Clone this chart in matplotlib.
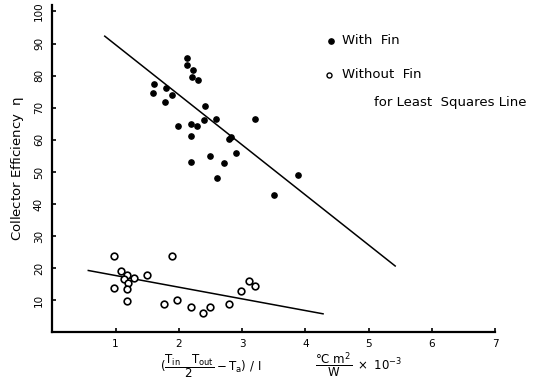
import matplotlib
matplotlib.use("Agg")
import matplotlib.pyplot as plt

plt.rcParams['mathtext.default'] = 'regular'

# With fin (filled dots)
fin_x = [2.13, 2.13, 2.22, 2.21, 2.31, 1.61, 1.60, 1.80, 1.89, 1.79,
         2.41, 2.59, 2.40, 2.19, 2.29, 1.99, 3.20, 2.20, 2.80, 2.82,
         2.90, 2.49, 2.71, 2.20, 2.61, 3.88, 3.50]
fin_y = [85.6, 83.3, 81.7, 79.6, 78.5, 77.3, 74.7, 76.1, 74.0, 71.9,
         70.6, 66.6, 66.1, 65.0, 64.4, 64.2, 66.5, 61.3, 60.3, 61.0,
         55.9, 54.9, 52.8, 53.2, 48.2, 49.2, 42.7]

# Without fin (open circles)
nofin_x = [0.98, 1.89, 1.08, 1.18, 1.14, 1.30, 1.49, 1.19, 0.97, 1.18,
           1.18, 1.77, 1.97, 2.19, 2.39, 2.49, 2.80, 2.98, 3.11, 3.20]
nofin_y = [23.7, 23.8, 19.0, 17.9, 16.6, 17.0, 17.8, 15.4, 13.7, 13.6,
           9.9, 8.8, 10.2, 8.0, 6.0, 7.9, 8.8, 12.9, 16.1, 14.5]

# least squares lines (end points)
fit_fin_x = [0.83, 5.42]
fit_fin_y = [92.3, 20.7]
fit_nofin_x = [0.57, 4.28]
fit_nofin_y = [19.3, 5.8]

xticks = [1, 2, 3, 4, 5, 6, 7]
yticks = [10, 20, 30, 40, 50, 60, 70, 80, 90, 100]

fig = plt.figure(figsize=(5.33, 3.87), dpi=100)
ax = fig.add_axes([0.098, 0.141, 0.831, 0.846])

ax.plot(fit_fin_x, fit_fin_y, color='black', lw=1.1)
ax.plot(fit_nofin_x, fit_nofin_y, color='black', lw=1.1)
ax.plot(fin_x, fin_y, 'o', color='black', markersize=3.8)
ax.plot(nofin_x, nofin_y, 'o', mfc='white', mec='black', mew=1.2,
        markersize=4.8)

ax.set_xlim(0, 7)
ax.set_ylim(0, 102)
ax.set_xticks(xticks)
ax.set_yticks(yticks)
ax.set_xticklabels([str(t) for t in xticks], fontsize=7.5)
ax.set_yticklabels([str(t) for t in yticks], fontsize=7.5, rotation=90,
                   va='center')
ax.tick_params(direction='in', length=3, width=1.2)
ax.tick_params(axis='x', pad=5)
ax.tick_params(axis='y', pad=6)
for s in ['top', 'right']:
    ax.spines[s].set_visible(False)
for s in ['left', 'bottom']:
    ax.spines[s].set_linewidth(1.6)

ax.set_ylabel(r'Collector Efficiency  $\eta$', fontsize=9.5, labelpad=6)

# x axis label and units
fig.text(0.395, 0.055, r'$(\dfrac{T_{in}\quad T_{out}}{2} - T_a)\ /\ I$',
         fontsize=8.5, ha='center', va='center')
fig.text(0.672, 0.055, r'$\dfrac{°C\ m^2}{W}\ \times\ 10^{-3}$',
         fontsize=8.5, ha='center', va='center')

# legend
ax.plot([4.4], [90.8], 'o', color='black', markersize=3.8, clip_on=False)
ax.text(4.58, 90.8, 'With  Fin', fontsize=9.5, va='center')
ax.plot([4.38], [80.3], 'o', mfc='white', mec='black', mew=1.0,
        markersize=3.6, clip_on=False)
ax.text(4.58, 80.3, 'Without  Fin', fontsize=9.5, va='center')
ax.text(5.08, 71.7, 'for Least  Squares Line', fontsize=9.5, va='center')

fig.savefig('out.png', dpi=100)
